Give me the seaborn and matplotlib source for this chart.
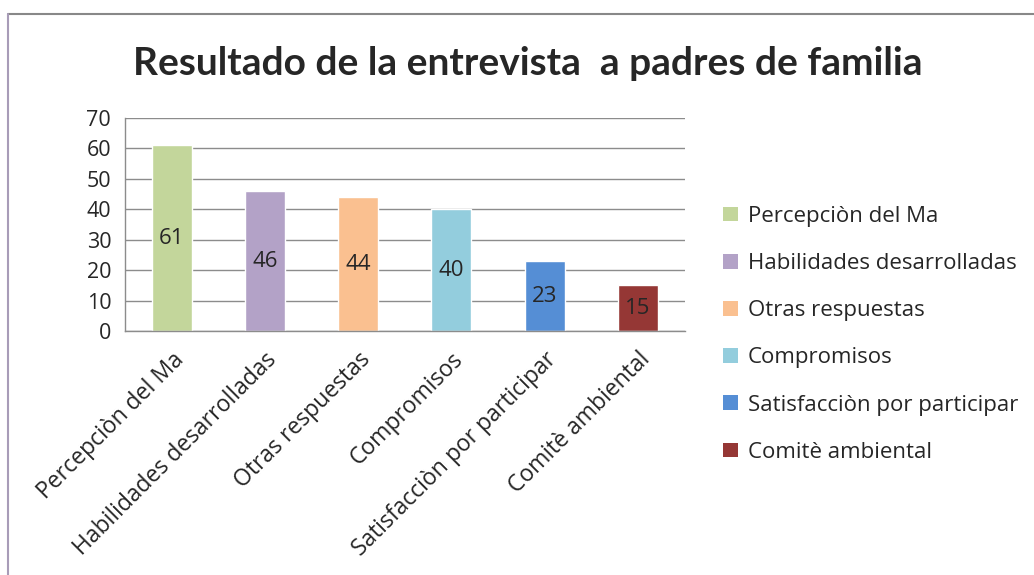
import matplotlib
matplotlib.use("Agg")
import matplotlib.pyplot as plt
import seaborn as sns
import pandas as pd
from matplotlib.patches import Patch
from matplotlib.lines import Line2D

categories = ["Percepciòn del Ma", "Habilidades desarrolladas", "Otras respuestas",
              "Compromisos", "Satisfacciòn por participar", "Comitè ambiental"]
values = [61, 46, 44, 40, 23, 15]
colors = ["#C3D69B", "#B3A2C7", "#FAC090", "#93CDDD", "#558ED5", "#953735"]
yticks = [0, 10, 20, 30, 40, 50, 60, 70]
title = "Resultado de la entrevista  a padres de familia"

sns.set_style("white")
plt.rcParams["font.family"] = ["Open Sans", "DejaVu Sans"]

df = pd.DataFrame({"cat": categories, "val": values})

fig = plt.figure(figsize=(10.34, 5.75), dpi=100)
ax = fig.add_axes([0.121, 0.4243, 0.541, 0.3705])

sns.barplot(data=df, x="cat", y="val", hue="cat", palette=colors, width=0.43,
            legend=False, ax=ax, saturation=1)

ax.set_ylim(0, 70)
ax.set_xlim(-0.5, len(categories) - 0.5)
ax.set_yticks(yticks)
ax.set_yticklabels([str(t) for t in yticks], fontsize=15.5)
ax.yaxis.grid(True, color="#8c8c8c", linewidth=1)
ax.set_axisbelow(True)
ax.tick_params(axis="y", length=6, color="#8c8c8c", width=1, pad=4)
ax.set_xlabel("")
ax.set_ylabel("")

ax.set_xticks(range(len(categories)))
ax.set_xticklabels(categories, rotation=45, ha="right", rotation_mode="anchor", fontsize=16.5)
ax.tick_params(axis="x", which="major", length=0, pad=12)
ax.set_xticks([i - 0.5 for i in range(len(categories) + 1)], minor=True)
ax.tick_params(axis="x", which="minor", length=7, color="#8c8c8c", width=1)

for s in ["top", "right"]:
    ax.spines[s].set_visible(False)
for s in ["left", "bottom"]:
    ax.spines[s].set_color("#8c8c8c")
    ax.spines[s].set_linewidth(1)

for c in ax.containers:
    ax.bar_label(c, labels=[f"{int(v)}" for v in c.datavalues], label_type="center", fontsize=16)

handles = [Patch(facecolor=col, edgecolor="none") for col in colors]
fig.legend(handles, categories, loc="upper left", bbox_to_anchor=(0.68, 0.677),
           frameon=False, fontsize=16, handlelength=0.65, handleheight=0.65,
           handletextpad=0.45, labelspacing=1.18)

fig.suptitle(title, x=0.51, y=0.92, fontsize=28, fontweight="bold", family=["Lato", "DejaVu Sans"])

fig.add_artist(Line2D([0.0082, 1.0], [0.9757, 0.9757], transform=fig.transFigure,
                      color="#888888", linewidth=1.5))
fig.add_artist(Line2D([0.0082, 0.0082], [0.0, 0.9757], transform=fig.transFigure,
                      color="#a89cb8", linewidth=1.5))

fig.savefig("out.png", dpi=100)
